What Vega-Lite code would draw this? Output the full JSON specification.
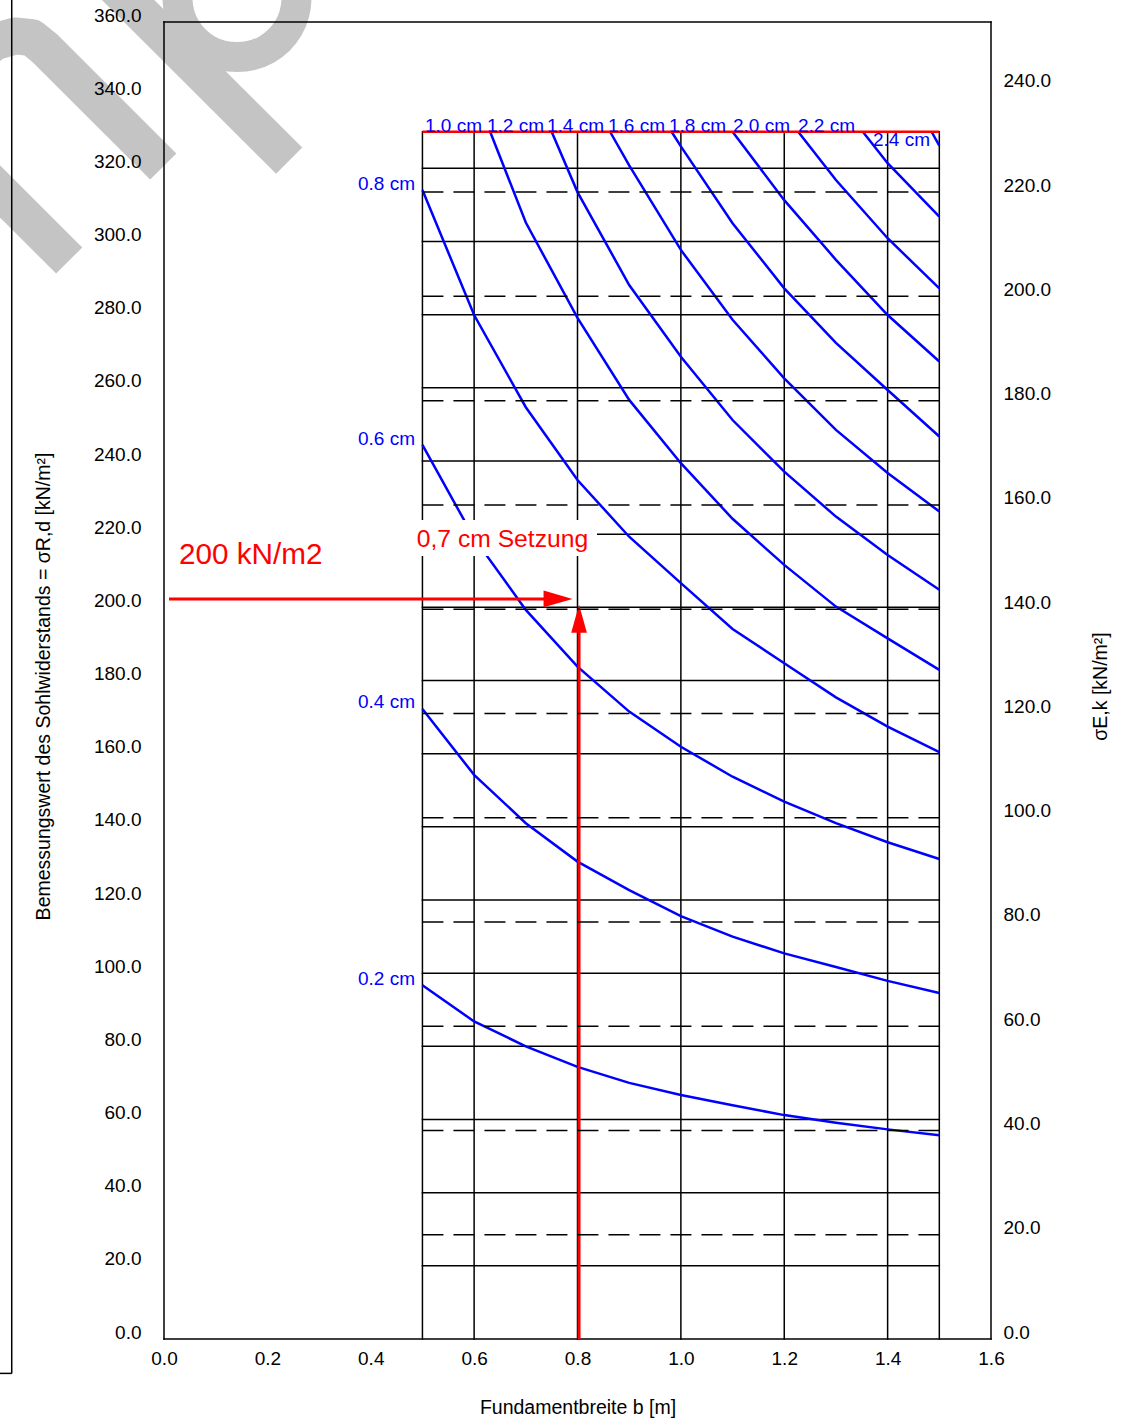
{
  "$schema": "https://vega.github.io/schema/vega-lite/v6.json",
  "width": 827,
  "height": 1317,
  "autosize": {"type": "none"},
  "padding": {"left": 164, "top": 22, "right": 146, "bottom": 82},
  "background": "white",
  "config": {
    "view": {"stroke": null},
    "font": "Liberation Sans",
    "axis": {
      "grid": false, "domain": false, "ticks": false, "tickSize": 0,
      "labelFont": "Liberation Sans", "labelFontSize": 19, "labelColor": "#000000",
      "labelOverlap": false, "labelFlush": false,
      "titleFont": "Liberation Sans", "titleFontSize": 19.5, "titleFontWeight": "normal", "titleColor": "#000000"
    }
  },
  "datasets": {
    "segs": [
      {"x": 0, "y": 0, "x2": 1.6, "y2": 0},
      {"x": 0, "y": 360, "x2": 1.6, "y2": 360},
      {"x": 0, "y": 0, "x2": 0, "y2": 360},
      {"x": 1.6, "y": 0, "x2": 1.6, "y2": 360},
      {"x": 0.5, "y": 20, "x2": 1.5, "y2": 20},
      {"x": 0.5, "y": 40, "x2": 1.5, "y2": 40},
      {"x": 0.5, "y": 60, "x2": 1.5, "y2": 60},
      {"x": 0.5, "y": 80, "x2": 1.5, "y2": 80},
      {"x": 0.5, "y": 100, "x2": 1.5, "y2": 100},
      {"x": 0.5, "y": 120, "x2": 1.5, "y2": 120},
      {"x": 0.5, "y": 140, "x2": 1.5, "y2": 140},
      {"x": 0.5, "y": 160, "x2": 1.5, "y2": 160},
      {"x": 0.5, "y": 180, "x2": 1.5, "y2": 180},
      {"x": 0.5, "y": 200, "x2": 1.5, "y2": 200},
      {"x": 0.5, "y": 220, "x2": 1.5, "y2": 220},
      {"x": 0.5, "y": 240, "x2": 1.5, "y2": 240},
      {"x": 0.5, "y": 260, "x2": 1.5, "y2": 260},
      {"x": 0.5, "y": 280, "x2": 1.5, "y2": 280},
      {"x": 0.5, "y": 300, "x2": 1.5, "y2": 300},
      {"x": 0.5, "y": 320, "x2": 1.5, "y2": 320},
      {"x": 0.5, "y": 0, "x2": 0.5, "y2": 330},
      {"x": 0.6, "y": 0, "x2": 0.6, "y2": 330},
      {"x": 0.8, "y": 0, "x2": 0.8, "y2": 330},
      {"x": 1.0, "y": 0, "x2": 1.0, "y2": 330},
      {"x": 1.2, "y": 0, "x2": 1.2, "y2": 330},
      {"x": 1.4, "y": 0, "x2": 1.4, "y2": 330},
      {"x": 1.5, "y": 0, "x2": 1.5, "y2": 330}
    ],
    "dashed": [
      {"x": 0.5, "x2": 1.5, "r": 20},
      {"x": 0.5, "x2": 1.5, "r": 40},
      {"x": 0.5, "x2": 1.5, "r": 60},
      {"x": 0.5, "x2": 1.5, "r": 80},
      {"x": 0.5, "x2": 1.5, "r": 100},
      {"x": 0.5, "x2": 1.5, "r": 120},
      {"x": 0.5, "x2": 1.5, "r": 140},
      {"x": 0.5, "x2": 1.5, "r": 160},
      {"x": 0.5, "x2": 1.5, "r": 180},
      {"x": 0.5, "x2": 1.5, "r": 200},
      {"x": 0.5, "x2": 1.5, "r": 220}
    ],
    "curves": [
      {"s": "0.2", "x": 0.5, "y": 96.7}, {"s": "0.2", "x": 0.6, "y": 86.8}, {"s": "0.2", "x": 0.7, "y": 80.0}, {"s": "0.2", "x": 0.8, "y": 74.4}, {"s": "0.2", "x": 0.9, "y": 70.0}, {"s": "0.2", "x": 1.0, "y": 66.7}, {"s": "0.2", "x": 1.1, "y": 63.9}, {"s": "0.2", "x": 1.2, "y": 61.2}, {"s": "0.2", "x": 1.3, "y": 59.1}, {"s": "0.2", "x": 1.4, "y": 57.3}, {"s": "0.2", "x": 1.5, "y": 55.7},
      {"s": "0.4", "x": 0.5, "y": 172.2}, {"s": "0.4", "x": 0.6, "y": 154.2}, {"s": "0.4", "x": 0.7, "y": 141.0}, {"s": "0.4", "x": 0.8, "y": 130.5}, {"s": "0.4", "x": 0.9, "y": 122.7}, {"s": "0.4", "x": 1.0, "y": 115.6}, {"s": "0.4", "x": 1.1, "y": 110.0}, {"s": "0.4", "x": 1.2, "y": 105.4}, {"s": "0.4", "x": 1.3, "y": 101.7}, {"s": "0.4", "x": 1.4, "y": 97.9}, {"s": "0.4", "x": 1.5, "y": 94.6},
      {"s": "0.6", "x": 0.5, "y": 244.4}, {"s": "0.6", "x": 0.6, "y": 218.9}, {"s": "0.6", "x": 0.7, "y": 199.3}, {"s": "0.6", "x": 0.8, "y": 183.8}, {"s": "0.6", "x": 0.9, "y": 171.5}, {"s": "0.6", "x": 1.0, "y": 161.9}, {"s": "0.6", "x": 1.1, "y": 153.7}, {"s": "0.6", "x": 1.2, "y": 146.9}, {"s": "0.6", "x": 1.3, "y": 141.0}, {"s": "0.6", "x": 1.4, "y": 135.8}, {"s": "0.6", "x": 1.5, "y": 131.2},
      {"s": "0.8", "x": 0.5, "y": 314.1}, {"s": "0.8", "x": 0.6, "y": 279.9}, {"s": "0.8", "x": 0.7, "y": 254.7}, {"s": "0.8", "x": 0.8, "y": 234.8}, {"s": "0.8", "x": 0.9, "y": 219.3}, {"s": "0.8", "x": 1.0, "y": 206.6}, {"s": "0.8", "x": 1.1, "y": 194.1}, {"s": "0.8", "x": 1.2, "y": 184.7}, {"s": "0.8", "x": 1.3, "y": 175.4}, {"s": "0.8", "x": 1.4, "y": 167.4}, {"s": "0.8", "x": 1.5, "y": 160.4},
      {"s": "1.0", "x": 0.631, "y": 330}, {"s": "1.0", "x": 0.7, "y": 305.2}, {"s": "1.0", "x": 0.8, "y": 279.1}, {"s": "1.0", "x": 0.9, "y": 256.7}, {"s": "1.0", "x": 1.0, "y": 239.4}, {"s": "1.0", "x": 1.1, "y": 224.2}, {"s": "1.0", "x": 1.2, "y": 211.6}, {"s": "1.0", "x": 1.3, "y": 200.2}, {"s": "1.0", "x": 1.4, "y": 191.5}, {"s": "1.0", "x": 1.5, "y": 182.9},
      {"s": "1.2", "x": 0.75, "y": 330}, {"s": "1.2", "x": 0.8, "y": 313.5}, {"s": "1.2", "x": 0.9, "y": 288.1}, {"s": "1.2", "x": 1.0, "y": 268.5}, {"s": "1.2", "x": 1.1, "y": 251.2}, {"s": "1.2", "x": 1.2, "y": 237.1}, {"s": "1.2", "x": 1.3, "y": 224.8}, {"s": "1.2", "x": 1.4, "y": 214.3}, {"s": "1.2", "x": 1.5, "y": 204.8},
      {"s": "1.4", "x": 0.863, "y": 330}, {"s": "1.4", "x": 0.9, "y": 320.8}, {"s": "1.4", "x": 1.0, "y": 297.7}, {"s": "1.4", "x": 1.1, "y": 278.6}, {"s": "1.4", "x": 1.2, "y": 262.6}, {"s": "1.4", "x": 1.3, "y": 248.5}, {"s": "1.4", "x": 1.4, "y": 236.7}, {"s": "1.4", "x": 1.5, "y": 226.2},
      {"s": "1.6", "x": 0.982, "y": 330}, {"s": "1.6", "x": 1.0, "y": 326.0}, {"s": "1.6", "x": 1.1, "y": 305.0}, {"s": "1.6", "x": 1.2, "y": 287.2}, {"s": "1.6", "x": 1.3, "y": 272.3}, {"s": "1.6", "x": 1.4, "y": 259.4}, {"s": "1.6", "x": 1.5, "y": 246.7},
      {"s": "1.8", "x": 1.1, "y": 330}, {"s": "1.8", "x": 1.2, "y": 311.3}, {"s": "1.8", "x": 1.3, "y": 295.0}, {"s": "1.8", "x": 1.4, "y": 279.9}, {"s": "1.8", "x": 1.5, "y": 267.2},
      {"s": "2.0", "x": 1.227, "y": 330}, {"s": "2.0", "x": 1.3, "y": 316.8}, {"s": "2.0", "x": 1.4, "y": 300.9}, {"s": "2.0", "x": 1.5, "y": 287.2},
      {"s": "2.2", "x": 1.352, "y": 330}, {"s": "2.2", "x": 1.4, "y": 321.4}, {"s": "2.2", "x": 1.5, "y": 306.8},
      {"s": "2.4", "x": 1.485, "y": 330}, {"s": "2.4", "x": 1.5, "y": 326.2}
    ],
    "lblLeft": [
      {"t": "0.2 cm", "x": 0.4856, "y": 96.9},
      {"t": "0.4 cm", "x": 0.4856, "y": 172.6},
      {"t": "0.6 cm", "x": 0.4856, "y": 244.5},
      {"t": "0.8 cm", "x": 0.4856, "y": 314.2}
    ],
    "lblTop": [
      {"t": "1.0 cm", "x": 0.5049, "y": 330},
      {"t": "1.2 cm", "x": 0.6249, "y": 330},
      {"t": "1.4 cm", "x": 0.741, "y": 330},
      {"t": "1.6 cm", "x": 0.859, "y": 330},
      {"t": "1.8 cm", "x": 0.977, "y": 330},
      {"t": "2.0 cm", "x": 1.1008, "y": 330},
      {"t": "2.2 cm", "x": 1.2265, "y": 330},
      {"t": "2.4 cm", "x": 1.3716, "y": 326.2}
    ],
    "wm": [
      {"id": "W1", "i": 0, "x": -0.3753, "y": 349.6},
      {"id": "W1", "i": 1, "x": -0.327, "y": 354.6},
      {"id": "W1", "i": 2, "x": -0.2883, "y": 356.2},
      {"id": "W1", "i": 3, "x": -0.2554, "y": 355.7},
      {"id": "W1", "i": 4, "x": -0.2302, "y": 352.8},
      {"id": "W1", "i": 5, "x": -0.0014, "y": 320.5},
      {"id": "W2", "i": 0, "x": -0.3753, "y": 321.9},
      {"id": "W2", "i": 1, "x": -0.1834, "y": 294.8},
      {"id": "W3", "i": 0, "x": -0.1083, "y": 371.5},
      {"id": "W3", "i": 1, "x": 0.2422, "y": 322.1}
    ],
    "wmArc": [
      {"i": 0, "x": 0.2409, "y": 374.7},
      {"i": 1, "x": 0.2563, "y": 366.6},
      {"i": 2, "x": 0.2409, "y": 358.4},
      {"i": 3, "x": 0.1988, "y": 352.5},
      {"i": 4, "x": 0.1412, "y": 350.4},
      {"i": 5, "x": 0.0837, "y": 352.5},
      {"i": 6, "x": 0.0416, "y": 358.4},
      {"i": 7, "x": 0.0261, "y": 366.6},
      {"i": 8, "x": 0.0416, "y": 374.7}
    ],
    "page": [
      {"x": -0.2946, "y": -9.4, "x2": -0.2946, "y2": 370},
      {"x": -0.33, "y": -9.4, "x2": -0.2946, "y2": -9.4}
    ]
  },
  "encoding": {
    "x": {"field": "x", "type": "quantitative", "scale": {"domain": [0, 1.6], "nice": false, "zero": false},
      "axis": {"orient": "bottom", "zindex": 2, "values": [0, 0.2, 0.4, 0.6, 0.8, 1.0, 1.2, 1.4, 1.6], "format": ".1f", "labelPadding": 10,
        "title": "Fundamentbreite b [m]", "titleX": 413.5, "titleY": 68, "titleAlign": "center", "titleBaseline": "middle"}}
  },
  "layer": [
    {
      "encoding": {
        "y": {"field": "y", "type": "quantitative", "scale": {"domain": [0, 360], "nice": false},
          "axis": {"orient": "left", "zindex": 2, "values": [0, 20, 40, 60, 80, 100, 120, 140, 160, 180, 200, 220, 240, 260, 280, 300, 320, 340, 360], "format": ".1f",
            "labelAlign": "right", "labelBaseline": "middle", "labelOffset": -7, "labelPadding": 23,
            "title": "Bemessungswert des Sohlwiderstands = σR,d [kN/m²]", "titleX": -121, "titleY": 664, "titleAngle": 270, "titleAlign": "center", "titleBaseline": "middle"}}
      },
      "layer": [
        {
          "data": {"name": "wm"},
          "mark": {"type": "line", "color": "#C4C4C4", "strokeWidth": 37, "strokeCap": "butt", "strokeJoin": "round", "clip": false},
          "encoding": {"detail": {"field": "id"}, "order": {"field": "i"}}
        },
        {
          "data": {"name": "wmArc"},
          "mark": {"type": "line", "color": "#C4C4C4", "strokeWidth": 30, "strokeCap": "butt", "interpolate": "cardinal", "clip": false},
          "encoding": {"order": {"field": "i"}}
        },
        {
          "data": {"name": "segs"},
          "mark": {"type": "rule", "color": "#000000", "strokeWidth": 1.5, "strokeCap": "square"},
          "encoding": {"x2": {"field": "x2"}, "y2": {"field": "y2"}}
        },
        {
          "data": {"name": "curves"},
          "mark": {"type": "line", "color": "#0000FF", "strokeWidth": 2.5},
          "encoding": {"detail": {"field": "s"}}
        },
        {
          "data": {"values": [{"x": 0.5, "x2": 1.5, "y": 330}]},
          "mark": {"type": "rule", "color": "#FF0000", "strokeWidth": 2.5},
          "encoding": {"x2": {"field": "x2"}}
        },
        {
          "data": {"values": [{"x": 0.48, "x2": 0.8377, "y": 214.0, "y2": 223.9}]},
          "mark": {"type": "rect", "color": "#FFFFFF"},
          "encoding": {"x2": {"field": "x2"}, "y2": {"field": "y2"}}
        },
        {
          "data": {"values": [{"t": "0,7 cm Setzung", "x": 0.4889, "y": 216.4}]},
          "mark": {"type": "text", "color": "#FF0000", "font": "Liberation Sans", "fontSize": 24.7, "align": "left", "baseline": "alphabetic"},
          "encoding": {"text": {"field": "t"}}
        },
        {
          "data": {"values": [{"x": 0.0097, "y": 202.3, "x2": 0.745, "y2": 202.3}, {"x": 0.803, "y": 0, "x2": 0.803, "y2": 195}]},
          "mark": {"type": "rule", "color": "#FF0000", "strokeWidth": 3},
          "encoding": {"x2": {"field": "x2"}, "y2": {"field": "y2"}}
        },
        {
          "data": {"values": [{"x": 0.7905, "y": 202.3}]},
          "mark": {"type": "point", "shape": "M0,0L-2,-0.58L-2,0.58Z", "size": 841, "filled": true, "color": "#FF0000", "opacity": 1, "strokeWidth": 0}
        },
        {
          "data": {"values": [{"x": 0.803, "y": 200.7}]},
          "mark": {"type": "point", "shape": "M0,0L-0.56,2L0.56,2Z", "size": 784, "filled": true, "color": "#FF0000", "opacity": 1, "strokeWidth": 0}
        },
        {
          "data": {"values": [{"t": "200 kN/m2", "x": 0.029, "y": 211.9}]},
          "mark": {"type": "text", "color": "#FF0000", "font": "Liberation Sans", "fontSize": 29.7, "align": "left", "baseline": "alphabetic"},
          "encoding": {"text": {"field": "t"}}
        },
        {
          "data": {"name": "lblLeft"},
          "mark": {"type": "text", "color": "#0000FF", "font": "Liberation Sans", "fontSize": 19, "align": "right", "baseline": "alphabetic"},
          "encoding": {"text": {"field": "t"}}
        },
        {
          "data": {"name": "lblTop"},
          "mark": {"type": "text", "color": "#0000FF", "font": "Liberation Sans", "fontSize": 19, "align": "left", "baseline": "alphabetic"},
          "encoding": {"text": {"field": "t"}}
        },
        {
          "data": {"name": "page"},
          "mark": {"type": "rule", "color": "#000000", "strokeWidth": 1.5, "clip": false},
          "encoding": {"x2": {"field": "x2"}, "y2": {"field": "y2"}}
        }
      ]
    },
    {
      "data": {"name": "dashed"},
      "mark": {"type": "rule", "color": "#000000", "strokeWidth": 1.5, "strokeDash": [21, 10]},
      "encoding": {
        "x2": {"field": "x2"},
        "y": {"field": "r", "type": "quantitative", "scale": {"domain": [0, 252.63], "nice": false, "zero": true},
          "axis": {"orient": "right", "zindex": 2, "values": [0, 20, 40, 60, 80, 100, 120, 140, 160, 180, 200, 220, 240], "format": ".1f",
            "labelAlign": "left", "labelBaseline": "middle", "labelOffset": -7, "labelPadding": 12,
            "title": "σE,k [kN/m²]", "titleX": 109, "titleY": 664, "titleAngle": 270, "titleAlign": "center", "titleBaseline": "middle"}}
      }
    }
  ],
  "resolve": {"scale": {"y": "independent"}}
}
